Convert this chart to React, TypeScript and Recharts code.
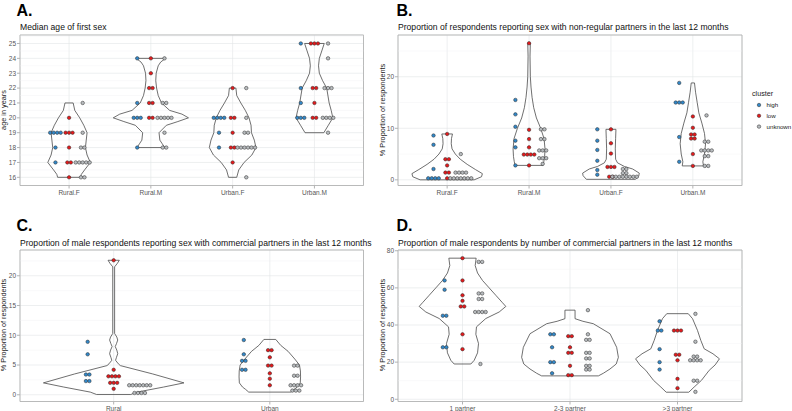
import React from 'react';
import { ScatterChart, Scatter, XAxis, YAxis, CartesianGrid, ReferenceLine, ReferenceArea } from 'recharts';

type Prof = [number, number][];

const FONT = '"Liberation Sans", Arial, sans-serif';
const COLORS: Record<string, string> = { high: '#3288c9', low: '#e41a1c', unknown: '#b8bcbf' };
const DODGE: Record<string, number> = { high: -1 / 6, low: 0, unknown: 1 / 6 };
const DOT_STEP_PX = 3.5;

// ---------- Panel A: Median age of first sex ----------
const aCategories = ['Rural.F', 'Rural.M', 'Urban.F', 'Urban.M'];
const aHigh = [
  [19, 19, 19, 19, 18, 17],
  [24, 21, 20, 20, 20, 18],
  [20, 20, 20, 20, 19, 18],
  [25, 22, 21, 20, 20, 20],
];
const aLow = [
  [20, 19, 19, 19, 18, 17, 17, 16],
  [24, 23, 22, 22, 21, 21, 20, 20],
  [22, 20, 20, 19, 18, 18, 17],
  [25, 25, 25, 22, 22, 21, 20, 20],
];
const aUnknown = [
  [21, 19, 18, 18, 17, 17, 17, 17, 17, 16, 16],
  [24, 21, 21, 20, 20, 20, 20, 20, 19, 18, 18],
  [22, 20, 19, 19, 18, 18, 18, 18, 18, 18, 16],
  [25, 24, 22, 22, 22, 20, 20, 20, 20, 19],
];
const aViolins: Prof[] = [
  [[21, 0.05], [20.5, 0.07], [20, 0.13], [19.5, 0.18], [19, 0.22], [18.5, 0.21], [18, 0.2], [17.5, 0.22], [17, 0.26], [16.5, 0.19], [16.2, 0.15], [16, 0.14]],
  [[24, 0.18], [23.75, 0.12], [23.5, 0.09], [23, 0.065], [22.5, 0.06], [22, 0.07], [21.5, 0.09], [21, 0.13], [20.5, 0.23], [20.25, 0.38], [20, 0.46], [19.75, 0.33], [19.5, 0.19], [19, 0.1], [18.5, 0.11], [18.25, 0.14], [18, 0.17]],
  [[22, 0.04], [21.5, 0.05], [21, 0.1], [20.5, 0.155], [20, 0.2], [19.5, 0.225], [19, 0.23], [18.5, 0.265], [18, 0.285], [17.5, 0.235], [17, 0.14], [16.5, 0.075], [16, 0.05]],
  [[25, 0.12], [24.5, 0.09], [24, 0.06], [23.5, 0.05], [23, 0.06], [22.5, 0.1], [22, 0.15], [21, 0.18], [20.5, 0.205], [20, 0.225], [19.5, 0.17], [19, 0.115]],
];
const aTicks = [16, 17, 18, 19, 20, 21, 22, 23, 24, 25];
const aMinor = [16.5, 17.5, 18.5, 19.5, 20.5, 21.5, 22.5, 23.5, 24.5, 25.5];

// ---------- Panel B: non-regular partners ----------
const bCategories = ['Rural.F', 'Rural.M', 'Urban.F', 'Urban.M'];
const bHigh = [
  [8.6, 6.8, 2.1, 0.3, 0.3, 0.3, 0.3],
  [15.5, 12.7, 10.3, 7.6, 6.3, 2.8],
  [9.8, 7.6, 5.8, 3.7, 1.9, 1.0],
  [18.8, 15.0, 15.0, 15.0, 8.3, 3.5],
];
const bLow = [
  [8.9, 4.0, 4.0, 2.8, 1.4, 1.4, 0.3],
  [26.5, 9.7, 7.9, 6.3, 4.9, 4.9, 4.9, 4.9, 2.8],
  [9.8, 7.1, 5.1, 2.5, 2.5, 2.5, 0.6, 0.6],
  [12.3, 10.1, 8.8, 8.8, 8.0, 8.0, 5.0, 2.7],
];
const bUnknown = [
  [5.0, 1.4, 1.4, 1.4, 1.4, 0.3, 0.3, 0.3, 0.3, 0.3, 0.3, 0.3],
  [9.8, 9.8, 7.9, 7.9, 5.7, 5.7, 5.7, 4.2, 4.2, 4.2, 3.1],
  [2.1, 2.1, 1.3, 1.3, 0.6, 0.6, 0.6, 0.6, 0.6, 0.6, 0.6, 0.6],
  [12.5, 7.4, 7.4, 5.7, 5.7, 5.7, 5.7, 4.6, 4.6, 2.7, 2.7],
];
const bViolins: Prof[] = [
  [[8.9, 0.065], [8, 0.053], [7, 0.05], [6, 0.06], [5, 0.1], [4, 0.16], [3, 0.245], [2, 0.345], [1.2, 0.43], [0.6, 0.42], [0, 0.33]],
  [[26.5, 0.016], [24, 0.012], [20, 0.016], [18, 0.024], [16, 0.037], [14, 0.057], [12, 0.09], [10, 0.142], [8, 0.183], [6, 0.195], [4.5, 0.19], [3.5, 0.18], [2.8, 0.17]],
  [[9.8, 0.061], [8, 0.057], [6, 0.053], [4, 0.057], [3.3, 0.08], [2.6, 0.163], [2.1, 0.265], [1.3, 0.346], [0.8, 0.34], [0.1, 0.3]],
  [[18.8, 0.02], [17, 0.033], [15, 0.053], [13, 0.073], [11, 0.11], [9, 0.142], [7, 0.155], [5, 0.142], [3.5, 0.122], [2.7, 0.13]],
];
const bTicks = [0, 10, 20];
const bMinor = [5, 15, 25];

// ---------- Panel C: commercial partners (male) ----------
const cCategories = ['Rural', 'Urban'];
const cHigh = [
  [8.9, 6.8, 3.4, 3.4, 2.3, 2.3],
  [9.2, 6.8, 5.7, 5.7, 4.2, 4.2],
];
const cLow = [
  [22.6, 4.2, 3.1, 3.1, 3.1, 3.1, 2.0, 2.0, 2.0, 1.0],
  [7.5, 7.5, 6.3, 4.9, 4.9, 3.6, 2.7, 1.6],
];
const cUnknown = [
  [1.6, 1.6, 1.6, 1.6, 1.6, 1.6, 1.6, 0.3, 0.3, 0.3, 0.3],
  [4.9, 4.9, 3.2, 3.2, 1.6, 1.6, 1.6, 1.6, 0.7, 0.7, 0.7],
];
const cViolins: Prof[] = [
  [[22.6, 0.036], [22.1, 0.024], [21.5, 0.006], [10.3, 0.006], [9.7, 0.02], [9.2, 0.026], [8.6, 0.018], [8.1, 0.01], [7.5, 0.02], [6.9, 0.026], [6.3, 0.018], [5.8, 0.012], [5.2, 0.03], [4.9, 0.043], [3.5, 0.25], [2, 0.45], [1.3, 0.32], [0.45, 0.15], [0.05, 0.11]],
  [[9.3, 0.038], [8.3, 0.07], [7.3, 0.117], [6, 0.16], [5, 0.19], [4, 0.196], [3, 0.197], [2, 0.195], [1.3, 0.175], [0.9, 0.155], [0.45, 0.135]],
];
const cTicks = [0, 5, 10, 15, 20];
const cMinor = [2.5, 7.5, 12.5, 17.5, 22.5];

// ---------- Panel D: number of commercial partners ----------
const dCategories = ['1 partner', '2-3 partner', '>3 partner'];
const dHigh = [
  [64, 59, 45, 45, 28, 28],
  [35, 35, 28, 20, 20, 14],
  [42, 37, 37, 27, 20, 16],
];
const dLow = [
  [76, 64, 56, 53, 50, 50, 35, 27],
  [34, 34, 28, 25, 25, 18, 13, 13],
  [37, 37, 37, 24, 24, 21, 11, 6],
];
const dUnknown = [
  [74, 74, 57, 57, 54, 54, 47, 47, 47, 47, 19],
  [48, 35, 32, 32, 25, 25, 22, 22, 18, 18, 16, 16],
  [46, 31, 23, 23, 21, 21, 21, 21, 10, 10, 4],
];
const dViolins: Prof[] = [
  [[76, 0.127], [72, 0.118], [68, 0.14], [64, 0.186], [60, 0.248], [56, 0.31], [52, 0.372], [50, 0.403], [47, 0.341], [43.5, 0.217], [39, 0.13], [35, 0.124], [30, 0.149], [25, 0.14], [21, 0.109], [19, 0.078]],
  [[48, 0.047], [43.4, 0.047], [42, 0.12], [40.7, 0.217], [35.3, 0.372], [28, 0.434], [22.6, 0.45], [19, 0.43], [16.3, 0.372], [14, 0.31], [12.6, 0.264]],
  [[46.1, 0.1], [43.4, 0.14], [37.1, 0.186], [31.7, 0.217], [27.2, 0.248], [24.5, 0.33], [21.8, 0.39], [18.5, 0.35], [15.6, 0.295], [10.2, 0.223], [6.6, 0.155], [3.8, 0.105]],
];
const dTicks = [0, 20, 40, 60, 80];
const dMinor = [10, 30, 50, 70];

// ---------- helpers ----------
function stackDots(values: number[][], dodge: number, step: number) {
  const pts: { x: number; y: number }[] = [];
  values.forEach((vals, ci) => {
    const counts = new Map<number, number>();
    vals.forEach((v) => counts.set(v, (counts.get(v) || 0) + 1));
    counts.forEach((n, v) => {
      for (let i = 0; i < n; i++) pts.push({ x: ci + 1 + dodge + (i - (n - 1) / 2) * step, y: v });
    });
  });
  return pts;
}

function violinPoly(profile: Prof, c: number) {
  const left = profile.map(([y, w]) => ({ x: c - w, y }));
  const right = [...profile].reverse().map(([y, w]) => ({ x: c + w, y }));
  return [...left, ...right, left[0]];
}

const Dot = (color: string) => (props: any) =>
  <circle cx={props.cx} cy={props.cy} r={1.75} fill={color} stroke="#2a2a2a" strokeWidth={0.5} />;

const NoShape = () => <g />;

type PanelProps = {
  box: [number, number, number, number];
  categories: string[];
  high: number[][];
  low: number[][];
  unknown: number[][];
  violins: Prof[];
  domain: [number, number];
  ticks: number[];
  minor: number[];
};

function Panel({ box, categories, high, low, unknown, violins, domain, ticks, minor }: PanelProps) {
  const [x0, x1, y0, y1] = box;
  const n = categories.length;
  const pxPerUnit = (x1 - x0) / (n + 0.2);
  const step = DOT_STEP_PX / pxPerUnit;
  const W = x1 - x0 + 25;
  const H = y1 - y0 + 25;
  const series: Record<string, number[][]> = { high, low, unknown };
  const xTicks = categories.map((_, i) => i + 1);
  return (
    <div style={{ position: 'absolute', left: x0 - 20, top: y0 - 5 }}>
      <ScatterChart width={W} height={H} margin={{ top: 5, right: 5, bottom: 5, left: 0 }}>
        <CartesianGrid stroke="#e1e4e6" strokeWidth={0.6} />
        {minor.map((v) => (
          <ReferenceLine key={'m' + v} y={v} stroke="#eff1f2" strokeWidth={0.4} />
        ))}
        <XAxis
          type="number"
          dataKey="x"
          domain={[0.4, n + 0.6]}
          ticks={xTicks}
          interval={0}
          allowDataOverflow
          tickFormatter={(v: number) => categories[Math.round(v) - 1]}
          tick={{ fontSize: 6.5, fill: '#555', fontFamily: FONT }}
          tickLine={{ stroke: '#b3b3b3' }}
          tickSize={3}
          tickMargin={1.5}
          axisLine={false}
          height={15}
        />
        <YAxis
          type="number"
          dataKey="y"
          domain={domain}
          ticks={ticks}
          interval={0}
          allowDataOverflow
          tick={{ fontSize: 6.5, fill: '#555', fontFamily: FONT }}
          tickLine={{ stroke: '#b3b3b3' }}
          tickSize={3}
          tickMargin={1}
          axisLine={false}
          width={20}
        />
        {violins.map((p, i) => (
          <Scatter
            key={'v' + i}
            data={violinPoly(p, i + 1)}
            line={{ stroke: '#4a4a4a', strokeWidth: 0.8 }}
            lineJointType="linear"
            shape={NoShape}
            isAnimationActive={false}
          />
        ))}
        {['high', 'low', 'unknown'].map((k) => (
          <Scatter
            key={k}
            data={stackDots(series[k], DODGE[k], step)}
            shape={Dot(COLORS[k])}
            isAnimationActive={false}
          />
        ))}
        <ReferenceArea
          x1={0.4}
          x2={n + 0.6}
          y1={domain[0]}
          y2={domain[1]}
          fill="none"
          fillOpacity={0}
          stroke="#b3b3b3"
          strokeWidth={0.9}
          ifOverflow="visible"
        />
      </ScatterChart>
    </div>
  );
}

export default function App() {
  return (
    <div style={{ position: 'absolute', left: 0, top: 0, width: 792, height: 411, background: '#fff', fontFamily: FONT }}>
      <Panel box={[19.5, 363, 35, 185.5]} categories={aCategories} high={aHigh} low={aLow} unknown={aUnknown}
        violins={aViolins} domain={[15.45, 25.57]} ticks={aTicks} minor={aMinor} />
      <Panel box={[398, 742, 35, 185.5]} categories={bCategories} high={bHigh} low={bLow} unknown={bUnknown}
        violins={bViolins} domain={[-1.1, 28.1]} ticks={bTicks} minor={bMinor} />
      <Panel box={[19.5, 363, 250, 401.5]} categories={cCategories} high={cHigh} low={cLow} unknown={cUnknown}
        violins={cViolins} domain={[-1.13, 24.33]} ticks={cTicks} minor={cMinor} />
      <Panel box={[398, 742, 250, 401.5]} categories={dCategories} high={dHigh} low={dLow} unknown={dUnknown}
        violins={dViolins} domain={[-1.2, 80.4]} ticks={dTicks} minor={dMinor} />
      <svg width={792} height={411} style={{ position: 'absolute', left: 0, top: 0, pointerEvents: 'none' }} fontFamily={FONT}>
        <text x={16.5} y={15.5} fontSize={16} fontWeight="bold" fill="#000">A.</text>
        <text x={396.5} y={15.5} fontSize={16} fontWeight="bold" fill="#000">B.</text>
        <text x={16.5} y={231} fontSize={16} fontWeight="bold" fill="#000">C.</text>
        <text x={396.5} y={231} fontSize={16} fontWeight="bold" fill="#000">D.</text>
        <text x={20} y={30} fontSize={8.6} fill="#111">Median age of first sex</text>
        <text x={398} y={30} fontSize={8.6} fill="#111">Proportion of respondents reporting sex with non-regular partners in the last 12 months</text>
        <text x={20} y={246} fontSize={8.6} fill="#111">Proportion of male respondents reporting sex with commercial partners in the last 12 months</text>
        <text x={398} y={246} fontSize={8.6} fill="#111">Proportion of male respondents by number of commercial partners in the last 12 months</text>
        <text transform="translate(6,110) rotate(-90)" textAnchor="middle" fontSize={7.3} fill="#222">age in years</text>
        <text transform="translate(384.5,110) rotate(-90)" textAnchor="middle" fontSize={7.3} fill="#222">% Proportion of respondents</text>
        <text transform="translate(6,325) rotate(-90)" textAnchor="middle" fontSize={7.3} fill="#222">% Proportion of respondents</text>
        <text transform="translate(384.5,325) rotate(-90)" textAnchor="middle" fontSize={7.3} fill="#222">% Proportion of respondents</text>
        <text x={752} y={95.5} fontSize={7.2} fill="#222">cluster</text>
        {['high', 'low', 'unknown'].map((k, i) => (
          <g key={k}>
            <circle cx={759} cy={105 + i * 10.8} r={1.75} fill={COLORS[k]} stroke="#2a2a2a" strokeWidth={0.5} />
            <text x={766.5} y={107.3 + i * 10.8} fontSize={6.2} fill="#222">{k}</text>
          </g>
        ))}
      </svg>
    </div>
  );
}
